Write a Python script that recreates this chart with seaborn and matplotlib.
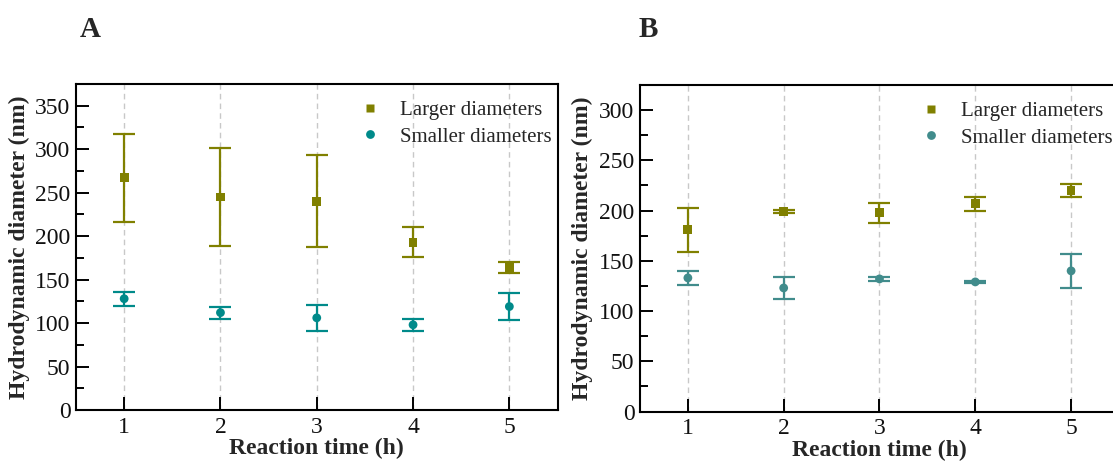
import numpy as np
import pandas as pd
import matplotlib
matplotlib.use("Agg")
import matplotlib.pyplot as plt
import seaborn as sns
from matplotlib.ticker import MultipleLocator

sns.set_theme(style="white")
plt.rcParams["font.family"] = ["Liberation Serif", "DejaVu Serif"]

# Reaction times (h)
times = [1, 2, 3, 4, 5]

# Panel A: hydrodynamic diameters (nm) and their deviations
a_large_mean = [267, 245, 240, 193, 164]
a_large_err = [51, 56, 53, 17, 6]
a_small_mean = [128, 112, 106, 98, 119]
a_small_err = [8, 7, 15, 7, 16]

# Panel B: hydrodynamic diameters (nm) and their deviations
b_large_mean = [181, 199, 198, 207, 220]
b_large_err = [22, 1.5, 10, 7, 6]
b_small_mean = [133, 123, 132, 129, 140]
b_small_err = [7, 11, 2, 1, 17]

series_names = ["Larger diameters", "Smaller diameters"]

OLIVE = "#808000"
TEAL_A = "#008a8a"
TEAL_B = "#418c8c"


def build_frame(large_m, large_e, small_m, small_e):
    rows = []
    for t, m, e in zip(times, large_m, large_e):
        rows.append({"time": t, "diameter": m, "err": e, "series": series_names[0]})
    for t, m, e in zip(times, small_m, small_e):
        rows.append({"time": t, "diameter": m, "err": e, "series": series_names[1]})
    return pd.DataFrame(rows)


def draw_panel(ax, df, teal, ymax, major, legend_x):
    palette = {series_names[0]: OLIVE, series_names[1]: teal}
    markers = {series_names[0]: "s", series_names[1]: "o"}
    for name in series_names:
        sub = df[df["series"] == name]
        ax.errorbar(sub["time"], sub["diameter"], yerr=sub["err"], fmt="none",
                    ecolor=palette[name], elinewidth=1.6, capsize=8,
                    capthick=1.6, zorder=2)
    sns.scatterplot(data=df, x="time", y="diameter", hue="series", style="series",
                    palette=palette, markers=markers, s=40, edgecolor="none",
                    hue_order=series_names, style_order=series_names,
                    ax=ax, zorder=3)
    for t in times:
        ax.axvline(t, color="#c8c8c8", lw=1.0, ls=(0, (4, 3)), zorder=0)
    ax.set_xlim(0.5, 5.5)
    ax.set_ylim(0, ymax)
    ax.set_xticks(times)
    ax.yaxis.set_major_locator(MultipleLocator(major))
    ax.yaxis.set_minor_locator(MultipleLocator(major / 2))
    ax.tick_params(axis="both", which="major", direction="in", length=9.5,
                   width=1.4, color="black", labelsize=17,
                   left=True, bottom=True, labelcolor="#111111")
    ax.tick_params(axis="x", which="major", pad=5)
    ax.tick_params(axis="y", which="major", pad=4)
    ax.tick_params(axis="y", which="minor", direction="in", length=6,
                   width=1.4, color="black", left=True)
    ax.tick_params(axis="x", which="minor", length=0)
    for sp in ax.spines.values():
        sp.set_linewidth(1.5)
        sp.set_color("black")
    ax.set_xlabel("Reaction time (h)", fontsize=17, fontweight="bold", labelpad=0)
    ax.set_ylabel("Hydrodynamic diameter (nm)", fontsize=17, fontweight="bold", labelpad=4)
    ax.legend(loc="upper left", bbox_to_anchor=(legend_x, 0.982), frameon=False,
              fontsize=15, handletextpad=0.85, borderaxespad=0.1,
              labelspacing=0.35, markerscale=1.0, handlelength=1.2)


fig = plt.figure(figsize=(11.13, 4.62), dpi=100)
ax_a = fig.add_axes([0.0683, 0.1126, 0.4326, 0.7056])
ax_b = fig.add_axes([0.575, 0.1093, 0.4304, 0.7067])

draw_panel(ax_a, build_frame(a_large_mean, a_large_err, a_small_mean, a_small_err),
           TEAL_A, 375, 50, 0.563)
draw_panel(ax_b, build_frame(b_large_mean, b_large_err, b_small_mean, b_small_err),
           TEAL_B, 325, 50, 0.56)

fig.text(0.081, 0.937, "A", fontsize=21, fontweight="bold", ha="center", va="center")
fig.text(0.582, 0.937, "B", fontsize=21, fontweight="bold", ha="center", va="center")

fig.savefig("out.png", dpi=100)
